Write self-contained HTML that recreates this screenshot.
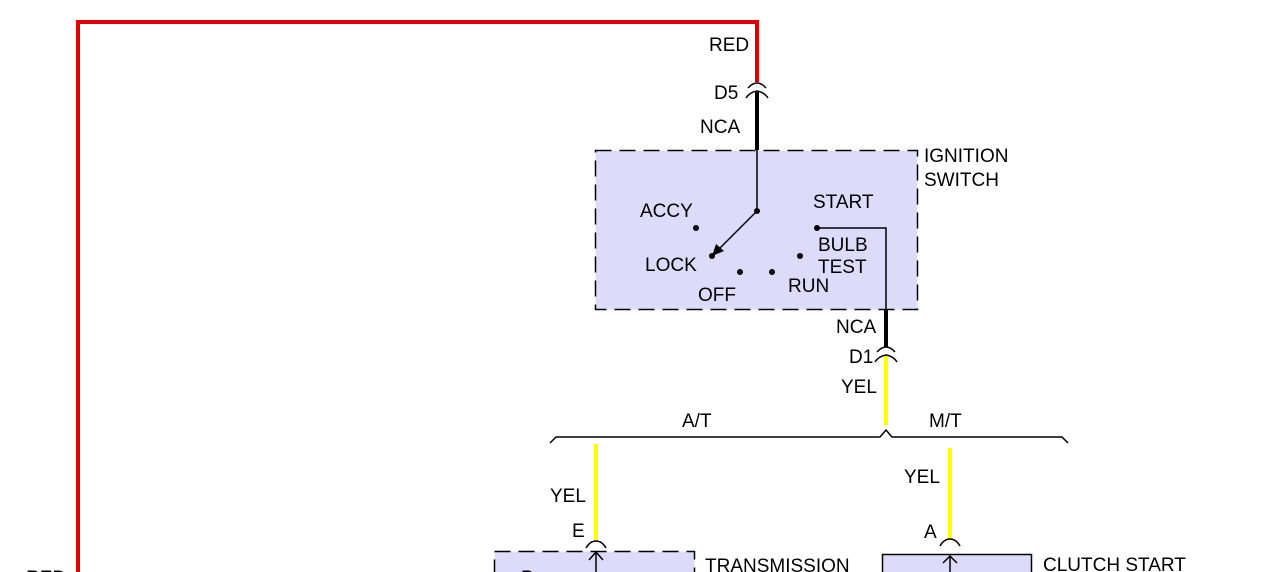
<!DOCTYPE html>
<html><head><meta charset="utf-8"><style>
html,body{margin:0;padding:0;background:#fff;width:1274px;height:572px;overflow:hidden}
text{font-family:"Liberation Sans",Arial,sans-serif;font-size:19px;fill:#000}
</style></head><body>
<svg width="1274" height="572" viewBox="0 0 1274 572" xmlns="http://www.w3.org/2000/svg">
<g fill="none" stroke="#000">
<polyline points="78,572 78,22 757,22 757,82" stroke="#e00000" stroke-width="4"/>
<path d="M748,88 Q757,78 766,88" stroke-width="1.5"/>
<path d="M746,98 Q750,92 757,91 Q764,92 768,98" stroke-width="1.5"/>
<line x1="757" y1="92" x2="757" y2="150" stroke-width="4"/>
<rect x="595.5" y="150.5" width="322" height="159" fill="#dcdcfa" stroke-dasharray="16,8" stroke-width="1.5"/>
<line x1="757" y1="150" x2="757" y2="211" stroke-width="1.5"/>
<line x1="757" y1="211" x2="718" y2="250" stroke-width="1.5"/>
<polyline points="817,228 886,228 886,309" stroke-width="1.5"/>
<line x1="886" y1="309" x2="886" y2="347" stroke-width="4"/>
<path d="M877,352 Q886,342 895,352" stroke-width="1.5"/>
<path d="M875,362 Q879,356 886,355 Q893,356 897,362" stroke-width="1.5"/>
<line x1="886" y1="356" x2="886" y2="425" stroke="#ffff00" stroke-width="4"/>
<polyline points="550,443 556,437 880,437 886,430 892,437 1062,437 1068,443" stroke-width="1.5"/>
<line x1="596" y1="444" x2="596" y2="540" stroke="#ffff00" stroke-width="4"/>
<line x1="950" y1="448" x2="950" y2="539" stroke="#ffff00" stroke-width="4"/>
<path d="M586,548 Q590,541 596,541 Q602,541 606,548" stroke-width="1.5"/>
<path d="M940,546 Q944,539 950,539 Q956,539 960,546" stroke-width="1.5"/>
<rect x="494.5" y="551.5" width="200" height="40" fill="#dcdcfa" stroke-dasharray="16,8" stroke-width="1.5"/>
<rect x="882.5" y="554.5" width="149" height="40" fill="#dcdcfa" stroke-width="1.5"/>
<line x1="596" y1="551" x2="596" y2="572" stroke-width="1.5"/>
<polyline points="589,560 596,552 603,560" stroke-width="1.5"/>
<line x1="950" y1="556" x2="950" y2="572" stroke-width="1.5"/>
<polyline points="943,563 950,556 957,563" stroke-width="1.5"/>
</g>
<polygon points="712,256 716,244 724,251" fill="#000"/>
<g fill="#000">
<circle cx="757" cy="211" r="3"/><circle cx="696" cy="228" r="3"/><circle cx="712" cy="256" r="3"/>
<circle cx="740" cy="272" r="3"/><circle cx="772" cy="272" r="3"/><circle cx="800" cy="256" r="3"/>
<circle cx="817" cy="228" r="3"/>
</g>
<text x="709" y="51">RED</text>
<text x="714" y="99">D5</text>
<text x="700" y="133">NCA</text>
<text x="924" y="162">IGNITION</text>
<text x="924" y="186">SWITCH</text>
<text x="640" y="217">ACCY</text>
<text x="813" y="208">START</text>
<text x="818" y="251">BULB</text>
<text x="818" y="273">TEST</text>
<text x="645" y="271">LOCK</text>
<text x="698" y="301">OFF</text>
<text x="788" y="292">RUN</text>
<text x="836" y="333">NCA</text>
<text x="849" y="363">D1</text>
<text x="841" y="393">YEL</text>
<text x="682" y="427">A/T</text>
<text x="929" y="427">M/T</text>
<text x="550" y="502">YEL</text>
<text x="904" y="483">YEL</text>
<text x="572" y="537">E</text>
<text x="924" y="538">A</text>
<text x="705" y="572">TRANSMISSION</text>
<text x="1043" y="571">CLUTCH START</text>
<text x="521" y="584">P</text>
<text x="26" y="584">RED</text>
</svg>
</body></html>
